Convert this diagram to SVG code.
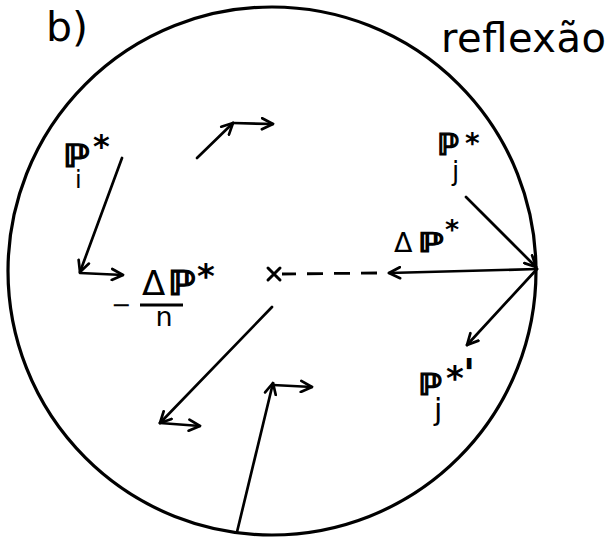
<svg xmlns="http://www.w3.org/2000/svg" width="610" height="538" viewBox="0 0 610 538">
<style>
.t{font-family:"DejaVu Sans","Liberation Sans",sans-serif;fill:#000}
.p{font-family:"DejaVu Sans","Liberation Sans",sans-serif;font-weight:bold;fill:#000;stroke:#000;stroke-width:1.2}
.st{font-family:"DejaVu Sans","Liberation Sans",sans-serif;font-weight:bold;fill:#000}
.c{fill:none;stroke:#000;stroke-width:3;stroke-linecap:round}
.a{fill:none;stroke:#000;stroke-width:2.7;stroke-linecap:round;marker-end:url(#arr)}
.d{fill:none;stroke:#000;stroke-width:2.8;stroke-dasharray:16 11}
</style>
<defs>
<marker id="arr" viewBox="0 0 14 14" refX="12.5" refY="7" markerWidth="14" markerHeight="14" markerUnits="userSpaceOnUse" orient="auto">
<path d="M1.5,1.5 L12.5,7 L1.5,12.5" fill="none" stroke="#000" stroke-width="2.7" stroke-linecap="round" stroke-linejoin="round"/>
</marker>
</defs>
<rect width="610" height="538" fill="#fff"/>
<g id="boundary">
<circle cx="272" cy="271" r="264" fill="none" stroke="#000" stroke-width="3.2"/>
</g>
<g id="title-b"><text class="t" x="46" y="41" font-size="41">b)</text></g>
<g id="title-reflexao"><text class="t" x="441" y="52" font-size="40" textLength="165">reflexão</text></g>
<g id="label-Pi"><text class="t"><tspan class="p" x="63" y="167" font-size="32" textLength="27" lengthAdjust="spacingAndGlyphs">ℙ</tspan><tspan x="75" y="188" font-size="24">i</tspan><tspan class="st" x="93" y="157" font-size="32">*</tspan></text></g>
<g id="label-dP-n">
<text class="t"><tspan x="111" y="313" font-size="24">−</tspan><tspan x="142" y="295" font-size="34">Δ</tspan><tspan class="p" x="168" y="295" font-size="34" textLength="28" lengthAdjust="spacingAndGlyphs">ℙ</tspan><tspan class="st" x="197" y="288" font-size="34">*</tspan><tspan x="164" y="326" font-size="27" text-anchor="middle">n</tspan></text>
<line x1="140" y1="305" x2="183" y2="305" stroke="#000" stroke-width="3"/>
</g>
<g id="label-Pj"><text class="t"><tspan class="p" x="437" y="155" font-size="30" textLength="22" lengthAdjust="spacingAndGlyphs">ℙ</tspan><tspan x="452" y="180" font-size="26">j</tspan><tspan class="st" x="465" y="153" font-size="28">*</tspan></text></g>
<g id="label-dP"><text class="t"><tspan x="394" y="252" font-size="27">Δ</tspan><tspan class="p" x="418" y="252" font-size="27" textLength="26" lengthAdjust="spacingAndGlyphs">ℙ</tspan><tspan class="st" x="445" y="239" font-size="27">*</tspan></text></g>
<g id="label-Pj-prime"><text class="t"><tspan class="p" x="418" y="395" font-size="30" textLength="24" lengthAdjust="spacingAndGlyphs">ℙ</tspan><tspan x="434" y="420" font-size="30">j</tspan><tspan class="st" x="446" y="390" font-size="34">*</tspan><tspan class="st" x="463" y="388" font-size="40">'</tspan></text></g>
<g id="center-mark">
<path d="M268,268 L280,280 M280,268 L268,280" class="c"/>
</g>
<g id="connectors">
<line class="a" x1="122" y1="158" x2="80" y2="272"/>
<line class="a" x1="80" y1="273" x2="123" y2="275"/>
<line class="a" x1="197" y1="158" x2="233" y2="123"/>
<line class="a" x1="233" y1="123" x2="273" y2="124"/>
<line class="a" x1="272" y1="307" x2="160" y2="423"/>
<line class="a" x1="160" y1="423" x2="200" y2="426"/>
<line class="a" x1="237" y1="532" x2="273" y2="383"/>
<line class="a" x1="273" y1="385" x2="312" y2="387"/>
<line class="a" x1="466" y1="197" x2="536" y2="267"/>
<line class="a" x1="537" y1="269" x2="389" y2="273"/>
<line class="a" x1="537" y1="269" x2="467" y2="345"/>
<line class="d" x1="377" y1="273" x2="282" y2="274"/>
</g>
</svg>
